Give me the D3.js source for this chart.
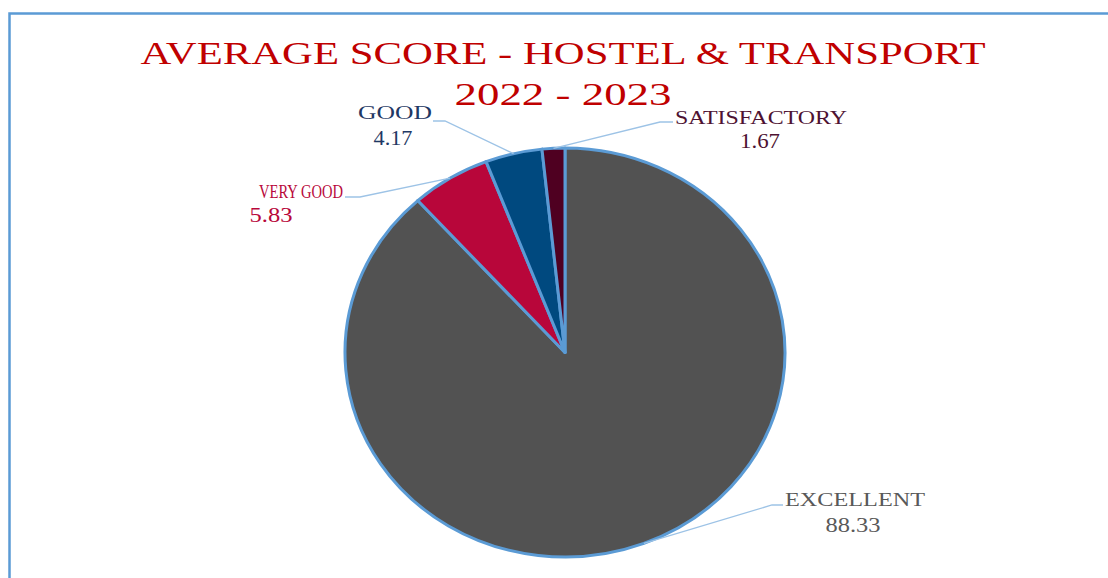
<!DOCTYPE html>
<html>
<head>
<meta charset="utf-8">
<script src="https://cdn.jsdelivr.net/npm/d3@7"></script>
<style>
  body { margin: 0; background: #fff; }
  text { font-family: "Liberation Serif", "DejaVu Serif", serif; }
</style>
</head>
<body>
<div class="chart"></div>
<script>
// chart data
var categories = ["EXCELLENT", "VERY GOOD", "GOOD", "SATISFACTORY"];
var scores = [88.33, 5.83, 4.17, 1.67];
var titleLines = ["AVERAGE SCORE - HOSTEL & TRANSPORT", "2022 - 2023"];

var sliceColors = ["#525252", "#B8063A", "#00497F", "#4F0021"];
var labelColors = ["#595959", "#B8073A", "#1F3864", "#4E1232"];

var svgWidth = 1108;
var svgHeight = 578;

// pie is drawn a bit wider than tall, like the source
var cx = 565, cy = 352.5;
var ry = 204.5, rx = 220;

// hand-placed label boxes (Excel lets the user drag them)
var labelPos = [
  { nx: 855, ny: 506, nw: 140, vx: 853, vy: 532, vw: 55, ax: 783, ay: 505, ex: 772 },
  { nx: 301, ny: 198, nw: 84,  vx: 271, vy: 222, vw: 43, ax: 345, ay: 197, ex: 360 },
  { nx: 395, ny: 119, nw: 74,  vx: 393, vy: 145, vw: 39, ax: 433, ay: 121, ex: 445 },
  { nx: 761, ny: 124, nw: 172, vx: 760, vy: 148, vw: 40, ax: 673, ay: 122, ex: 660 }
];

var svg = d3.select(".chart")
  .append("svg")
  .attr("width", svgWidth)
  .attr("height", svgHeight);

svg.append("rect")
  .attr("width", svgWidth)
  .attr("height", svgHeight)
  .attr("fill", "#fff");

// chart area border, runs off the right and bottom
svg.append("rect")
  .attr("x", 9.5)
  .attr("y", 13.5)
  .attr("width", 1200)
  .attr("height", 700)
  .attr("fill", "none")
  .attr("stroke", "#5B9BD5")
  .attr("stroke-width", 2.5);

// title
var titleY = [64, 105];
var titleW = [845, 217];
svg.selectAll(".title")
  .data(titleLines)
  .enter()
  .append("text")
  .attr("class", "title")
  .attr("x", 563)
  .attr("y", (d, i) => titleY[i])
  .attr("text-anchor", "middle")
  .attr("font-size", 31)
  .attr("fill", "#C00000")
  .attr("textLength", (d, i) => titleW[i])
  .attr("lengthAdjust", "spacingAndGlyphs")
  .text(d => d);

var data = categories.map((c, i) => ({ name: c, value: scores[i], i: i }));

var pie = d3.pie()
  .sort(null)
  .value(d => d.value);

var arc = d3.arc()
  .innerRadius(0)
  .outerRadius(ry);

var arcs = pie(data);

var pieGroup = svg.append("g")
  .attr("transform", `translate(${cx}, ${cy}) scale(${rx / ry}, 1)`);

pieGroup.selectAll("path")
  .data(arcs)
  .enter()
  .append("path")
  .attr("d", arc)
  .attr("fill", d => sliceColors[d.data.i])
  .attr("stroke", "#5B9BD5")
  .attr("stroke-width", 3)
  .attr("stroke-linejoin", "round")
  .attr("vector-effect", "non-scaling-stroke");

// leader lines from label to slice edge
svg.selectAll(".leader")
  .data(arcs)
  .enter()
  .append("polyline")
  .attr("class", "leader")
  .attr("fill", "none")
  .attr("stroke", "#9DC3E6")
  .attr("stroke-width", 1.3)
  .attr("points", function(d) {
    var p = labelPos[d.data.i];
    var a = (d.startAngle + d.endAngle) / 2;
    var px = cx + rx * Math.sin(a);
    var py = cy - ry * Math.cos(a);
    return [[p.ax, p.ay], [p.ex, p.ay], [px, py]].map(q => q.join(",")).join(" ");
  });

var labels = svg.selectAll(".lbl")
  .data(arcs)
  .enter()
  .append("g")
  .attr("class", "lbl");

labels.append("text")
  .attr("x", d => labelPos[d.data.i].nx)
  .attr("y", d => labelPos[d.data.i].ny)
  .attr("text-anchor", "middle")
  .attr("font-size", 19)
  .attr("fill", d => labelColors[d.data.i])
  .attr("textLength", d => labelPos[d.data.i].nw)
  .attr("lengthAdjust", "spacingAndGlyphs")
  .text(d => d.data.name);

labels.append("text")
  .attr("x", d => labelPos[d.data.i].vx)
  .attr("y", d => labelPos[d.data.i].vy)
  .attr("text-anchor", "middle")
  .attr("font-size", 20)
  .attr("fill", d => labelColors[d.data.i])
  .attr("textLength", d => labelPos[d.data.i].vw)
  .attr("lengthAdjust", "spacingAndGlyphs")
  .text(d => d3.format(".2f")(d.data.value));
</script>
</body>
</html>
